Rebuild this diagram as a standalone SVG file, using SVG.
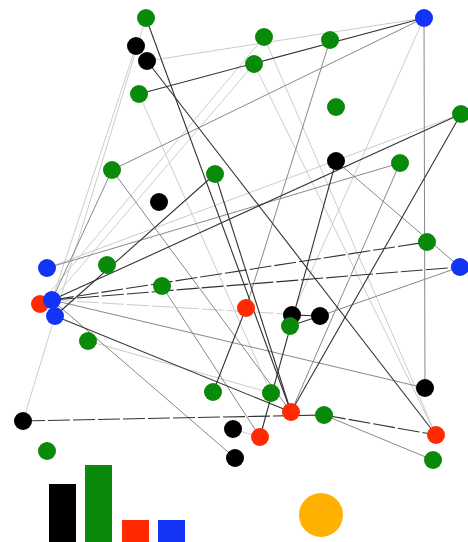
<svg xmlns="http://www.w3.org/2000/svg" width="468" height="542" viewBox="0 0 468 542">
<style>
.d{stroke:#333;stroke-width:1.1;fill:none}
.m{stroke:#888;stroke-width:1;fill:none}
.l{stroke:#ccc;stroke-width:1;fill:none}
.ds{stroke-dasharray:22 3}
.g{fill:#0a8a0a}
.k{fill:#000}
.b{fill:#1434f5}
.r{fill:#ff2a00}
</style>
<rect width="468" height="542" fill="#fff"/>
<g id="connectors">
<line class="l" x1="23" y1="421" x2="146" y2="18"/>
<line class="l" x1="264" y1="37" x2="40" y2="304"/>
<line class="l" x1="254" y1="64" x2="52" y2="300"/>
<line class="l" x1="254" y1="64" x2="436" y2="435"/>
<line class="l" x1="264" y1="37" x2="436" y2="435"/>
<line class="l" x1="147" y1="61" x2="424" y2="18"/>
<line class="l" x1="424" y1="18" x2="292" y2="315"/>
<line class="l" x1="139" y1="94" x2="271" y2="393"/>
<line class="l" x1="47" y1="268" x2="461" y2="114"/>
<line class="l" x1="52" y1="300" x2="136" y2="46"/>
<line class="l" x1="88" y1="341" x2="271" y2="393"/>
<line class="l" x1="233" y1="429" x2="260" y2="437"/>
<line class="l ds" x1="52" y1="300" x2="320" y2="316"/>
<line class="m" x1="112" y1="170" x2="424" y2="18"/>
<line class="m" x1="424" y1="18" x2="425" y2="388"/>
<line class="m" x1="112" y1="170" x2="52" y2="300"/>
<line class="m" x1="112" y1="170" x2="291" y2="412"/>
<line class="m" x1="400" y1="163" x2="291" y2="412"/>
<line class="m" x1="400" y1="163" x2="47" y2="268"/>
<line class="m" x1="336" y1="161" x2="460" y2="267"/>
<line class="m" x1="460" y1="267" x2="320" y2="316"/>
<line class="m" x1="330" y1="40" x2="246" y2="308"/>
<line class="m" x1="52" y1="300" x2="425" y2="388"/>
<line class="m" x1="52" y1="300" x2="235" y2="458"/>
<line class="m" x1="162" y1="286" x2="260" y2="437"/>
<line class="m" x1="324" y1="415" x2="433" y2="460"/>
<line class="d" x1="146" y1="18" x2="291" y2="412"/>
<line class="d" x1="147" y1="61" x2="436" y2="435"/>
<line class="d" x1="139" y1="94" x2="424" y2="18"/>
<line class="d" x1="52" y1="300" x2="461" y2="114"/>
<line class="d" x1="461" y1="114" x2="291" y2="412"/>
<line class="d" x1="336" y1="161" x2="260" y2="437"/>
<line class="d" x1="215" y1="174" x2="55" y2="316"/>
<line class="d" x1="215" y1="174" x2="291" y2="412"/>
<line class="d ds" x1="52" y1="300" x2="427" y2="242"/>
<line class="d ds" x1="52" y1="300" x2="460" y2="267"/>
<line class="d" x1="292" y1="315" x2="320" y2="316"/>
<line class="d" x1="320" y1="316" x2="290" y2="326"/>
<line class="d" x1="246" y1="308" x2="213" y2="392"/>
<line class="d" x1="55" y1="316" x2="291" y2="412"/>
<line class="d ds" x1="23" y1="421" x2="324" y2="415"/>
<line class="d ds" x1="324" y1="415" x2="436" y2="435"/>
</g>
<g id="n1"><circle class="g" cx="146" cy="18" r="9"/></g>
<g id="n2"><circle class="k" cx="136" cy="46" r="9"/></g>
<g id="n3"><circle class="k" cx="147" cy="61" r="9"/></g>
<g id="n4"><circle class="g" cx="139" cy="94" r="9"/></g>
<g id="n5"><circle class="g" cx="264" cy="37" r="9"/></g>
<g id="n6"><circle class="g" cx="254" cy="64" r="9"/></g>
<g id="n7"><circle class="g" cx="330" cy="40" r="9"/></g>
<g id="n8"><circle class="b" cx="424" cy="18" r="9"/></g>
<g id="n9"><circle class="g" cx="336" cy="107" r="9"/></g>
<g id="n10"><circle class="g" cx="461" cy="114" r="9"/></g>
<g id="n11"><circle class="k" cx="336" cy="161" r="9"/></g>
<g id="n12"><circle class="g" cx="400" cy="163" r="9"/></g>
<g id="n13"><circle class="g" cx="112" cy="170" r="9"/></g>
<g id="n14"><circle class="k" cx="159" cy="202" r="9"/></g>
<g id="n15"><circle class="g" cx="215" cy="174" r="9"/></g>
<g id="n16"><circle class="g" cx="427" cy="242" r="9"/></g>
<g id="n17"><circle class="b" cx="460" cy="267" r="9"/></g>
<g id="n18"><circle class="b" cx="47" cy="268" r="9"/></g>
<g id="n19"><circle class="g" cx="107" cy="265" r="9"/></g>
<g id="n20"><circle class="g" cx="162" cy="286" r="9"/></g>
<g id="n21"><circle class="r" cx="40" cy="304" r="9"/></g>
<g id="n22"><circle class="b" cx="52" cy="300" r="9"/></g>
<g id="n23"><circle class="b" cx="55" cy="316" r="9"/></g>
<g id="n24"><circle class="g" cx="88" cy="341" r="9"/></g>
<g id="n25"><circle class="r" cx="246" cy="308" r="9"/></g>
<g id="n26"><circle class="k" cx="292" cy="315" r="9"/></g>
<g id="n28"><circle class="g" cx="290" cy="326" r="9"/></g>
<g id="n27"><circle class="k" cx="320" cy="316" r="9"/></g>
<g id="n29"><circle class="g" cx="213" cy="392" r="9"/></g>
<g id="n30"><circle class="g" cx="271" cy="393" r="9"/></g>
<g id="n31"><circle class="k" cx="425" cy="388" r="9"/></g>
<g id="n32"><circle class="r" cx="291" cy="412" r="9"/></g>
<g id="n33"><circle class="g" cx="324" cy="415" r="9"/></g>
<g id="n34"><circle class="r" cx="436" cy="435" r="9"/></g>
<g id="n35"><circle class="g" cx="433" cy="460" r="9"/></g>
<g id="n36"><circle class="k" cx="23" cy="421" r="9"/></g>
<g id="n37"><circle class="g" cx="47" cy="451" r="9"/></g>
<g id="n38"><circle class="k" cx="233" cy="429" r="9"/></g>
<g id="n39"><circle class="r" cx="260" cy="437" r="9"/></g>
<g id="n40"><circle class="k" cx="235" cy="458" r="9"/></g>
<g id="legend">
<rect x="49" y="484" width="27" height="58" fill="#000"/>
<rect x="85" y="465" width="27" height="77" fill="#0a8a0a"/>
<rect x="122" y="520" width="27" height="22" fill="#ff2a00"/>
<rect x="158" y="520" width="27" height="22" fill="#1434f5"/>
<circle cx="321" cy="515" r="22" fill="#ffb000"/>
</g>
</svg>
